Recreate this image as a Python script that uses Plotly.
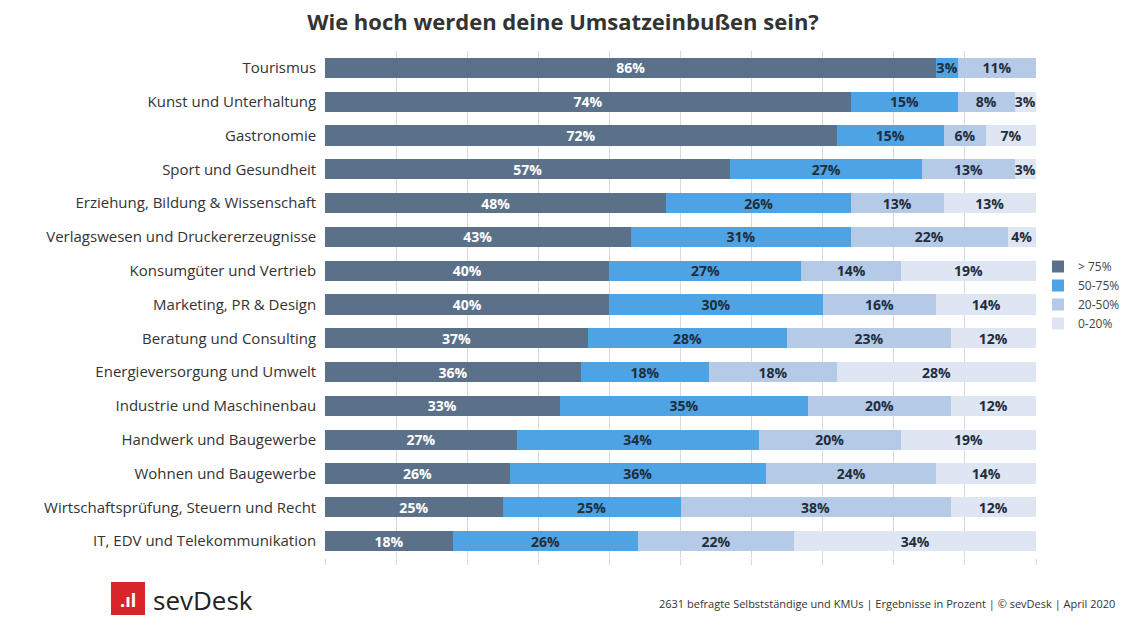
import plotly.graph_objects as go

categories = ["Tourismus", "Kunst und Unterhaltung", "Gastronomie", "Sport und Gesundheit",
              "Erziehung, Bildung & Wissenschaft", "Verlagswesen und Druckererzeugnisse",
              "Konsumgüter und Vertrieb", "Marketing, PR & Design", "Beratung und Consulting",
              "Energieversorgung und Umwelt", "Industrie und Maschinenbau", "Handwerk und Baugewerbe",
              "Wohnen und Baugewerbe", "Wirtschaftsprüfung, Steuern und Recht", "IT, EDV und Telekommunikation"]
s_gt75 = [86, 74, 72, 57, 48, 43, 40, 40, 37, 36, 33, 27, 26, 25, 18]
s_50_75 = [3, 15, 15, 27, 26, 31, 27, 30, 28, 18, 35, 34, 36, 25, 26]
s_20_50 = [11, 8, 6, 13, 13, 22, 14, 16, 23, 18, 20, 20, 24, 38, 22]
s_0_20 = [0, 3, 7, 3, 13, 4, 19, 14, 12, 28, 12, 19, 14, 12, 34]
series_names = ["> 75%", "50-75%", "20-50%", "0-20%"]
colors = ["#5b7189", "#4ea3e4", "#b4cae6", "#dde6f2"]
text_colors = ["white", "#1f2d3d", "#1f2d3d", "#1f2d3d"]

OFF = 8  # page body margin
W, H = 1127, 626 - OFF
def px(x):
    return (x - OFF) / W
def py(y):
    return 1 - (y - OFF) / H

fig = go.Figure()
for name, vals, c, tc in zip(series_names, [s_gt75, s_50_75, s_20_50, s_0_20], colors, text_colors):
    fig.add_trace(go.Bar(
        y=categories, x=vals, name=name, orientation="h", marker=dict(color=c, line_width=0),
        text=[f"{v}%" if v > 0 else "" for v in vals], textposition="inside", insidetextanchor="middle",
        textfont=dict(color=tc, size=14, family="Open Sans", weight="bold"),
        hoverinfo="skip"))

fig.update_layout(
    barmode="stack", bargap=0.4, width=W, height=H,
    paper_bgcolor="white", plot_bgcolor="white",
    margin=dict(l=0, r=0, t=0, b=0, autoexpand=False),
    uniformtext=dict(minsize=14, mode="show"),
    font=dict(family="Open Sans", color="#333"),
    title=dict(text="<b>Wie hoch werden deine Umsatzeinbußen sein?</b>", x=px(563), xanchor="center",
               y=py(22), yanchor="middle", font=dict(size=22, color="#333")),
    xaxis=dict(domain=[px(325), px(1036)], range=[0, 100], dtick=10, showticklabels=False,
               showgrid=True, gridcolor="#d9d9d9", zeroline=False, ticks="outside", ticklen=6,
               tickcolor="#d9d9d9", automargin=False),
    yaxis=dict(domain=[py(558), py(51)], autorange="reversed", automargin=False,
               tickfont=dict(size=15, color="#333"), ticksuffix="  ", showline=False),
    legend=dict(x=px(1038), y=py(252), xanchor="left", yanchor="top", traceorder="normal",
                font=dict(size=12, color="#444"), itemwidth=30, tracegroupgap=6,
                bgcolor="rgba(0,0,0,0)"),
    shapes=[
        dict(type="rect", xref="paper", yref="paper", x0=px(111), x1=px(145), y0=py(615),
             y1=py(582), fillcolor="#d9252a", line_width=0),
    ],
    annotations=[
        dict(text="sevDesk", xref="paper", yref="paper", x=px(151), y=py(600), xanchor="left",
             yanchor="middle", showarrow=False, font=dict(size=26, color="#222", family="Open Sans")),
        dict(text="<b>.ıl</b>", xref="paper", yref="paper", x=px(128), y=py(600), xanchor="center",
             yanchor="middle", showarrow=False, font=dict(size=18, color="white")),
        dict(text="2631 befragte Selbstständige und KMUs | Ergebnisse in Prozent | © sevDesk | April 2020",
             xref="paper", yref="paper", x=px(1117), y=py(603), xanchor="right", yanchor="middle",
             showarrow=False, font=dict(size=11, color="#333")),
    ],
)
fig.write_html("out.html")
